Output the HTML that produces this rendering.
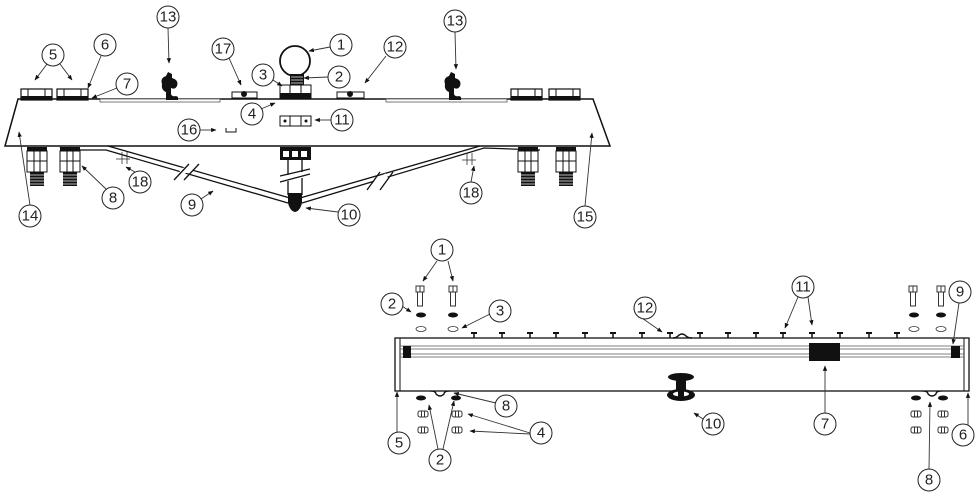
<!DOCTYPE html>
<html><head><meta charset="utf-8"><style>
html,body{margin:0;padding:0;background:#fff;width:980px;height:500px;overflow:hidden}
svg{display:block}
text{font-family:"Liberation Sans",sans-serif;font-size:15px;fill:#222;text-anchor:middle;dominant-baseline:central}
</style></head><body>
<svg width="980" height="500" viewBox="0 0 980 500" xmlns="http://www.w3.org/2000/svg">
<defs>
<marker id="a" viewBox="0 0 10 10" refX="9" refY="5" markerWidth="6" markerHeight="6" orient="auto-start-reverse"><path d="M0,1 L10,5 L0,9 Z" fill="#111"/></marker>
<g id="blk"><rect x="0" y="0" width="31" height="11" fill="#fff" stroke="#111" stroke-width="1.2"/><rect x="0" y="7" width="31" height="4" fill="#111"/><line x1="7" y1="0" x2="7" y2="7" stroke="#111"/><line x1="24" y1="0" x2="24" y2="7" stroke="#111"/></g>
<g id="horn"><path d="M-4,0 L-4,-8 Q-9,-10 -8,-16 Q-10,-22 -4,-24 L-2,-28 L2,-26 L2,-22 Q9,-20 7,-14 Q5,-10 1,-12 L1,-6 Q2,-3 6,-4 L8,-3 L8,0 Z" fill="#111"/></g>
<g id="conn"><rect x="0" y="0" width="20" height="4" fill="#111"/><rect x="0" y="4" width="20" height="21" fill="#fff" stroke="#111"/><line x1="0" y1="14" x2="20" y2="14" stroke="#111"/><line x1="7" y1="4" x2="7" y2="25" stroke="#111"/><line x1="13" y1="4" x2="13" y2="25" stroke="#111"/><rect x="3" y="25" width="14" height="14" fill="#111"/><g stroke="#fff" stroke-width="0.7"><line x1="3" y1="28" x2="17" y2="28"/><line x1="3" y1="31" x2="17" y2="31"/><line x1="3" y1="34" x2="17" y2="34"/><line x1="3" y1="37" x2="17" y2="37"/></g></g>
<g id="bolt"><rect x="-4" y="0" width="8" height="6" fill="#fff" stroke="#333"/><line x1="0" y1="0" x2="0" y2="6" stroke="#333"/><rect x="-2.5" y="6" width="5" height="14" fill="#fff" stroke="#333"/></g>
<g id="nut"><rect x="-5" y="-3" width="10" height="6" rx="2" fill="#fff" stroke="#333"/><line x1="-1.5" y1="-3" x2="-1.5" y2="3" stroke="#333"/><line x1="1.5" y1="-3" x2="1.5" y2="3" stroke="#333"/></g>
<g id="tick"><line x1="0" y1="0" x2="0" y2="-5" stroke="#111" stroke-width="1.5"/><rect x="-3" y="-6" width="6" height="2" fill="#111"/></g>
</defs>

<g stroke="#111" fill="none" stroke-width="1.5">
<path d="M18,99 L593,99 L610,146 L5,146 Z" fill="#fff"/>
</g>
<rect x="100" y="99" width="120" height="3" fill="#fff" stroke="#555" stroke-width="0.8"/>
<rect x="386" y="99" width="121" height="3" fill="#fff" stroke="#555" stroke-width="0.8"/>
<use href="#blk" x="21" y="89"/><use href="#blk" x="57" y="89"/>
<use href="#blk" x="511" y="89"/><use href="#blk" x="549" y="89"/>
<use href="#horn" x="170" y="100"/><use href="#horn" x="453" y="100"/>
<g fill="#fff" stroke="#111"><rect x="232" y="92" width="25" height="6"/><rect x="337" y="92" width="27" height="6"/></g>
<circle cx="244" cy="94" r="3" fill="#111"/><circle cx="350" cy="94" r="3" fill="#111"/>
<circle cx="295" cy="61" r="15" fill="#fff" stroke="#111" stroke-width="1.8"/>
<rect x="290" y="74" width="14" height="11" fill="#111"/>
<g stroke="#fff" stroke-width="0.7"><line x1="291" y1="77" x2="303" y2="77"/><line x1="291" y1="80" x2="303" y2="80"/><line x1="291" y1="83" x2="303" y2="83"/></g>
<rect x="280" y="85" width="31" height="14" fill="#fff" stroke="#111"/><rect x="280" y="93" width="31" height="6" fill="#111"/>
<line x1="290" y1="85" x2="290" y2="93" stroke="#111"/><line x1="301" y1="85" x2="301" y2="93" stroke="#111"/>
<rect x="280" y="116" width="31" height="10" fill="#fff" stroke="#111"/><line x1="290" y1="116" x2="290" y2="126" stroke="#111"/><line x1="301" y1="116" x2="301" y2="126" stroke="#111"/>
<circle cx="285" cy="121" r="1.5" fill="#111"/><circle cx="306" cy="121" r="1.5" fill="#111"/>
<path d="M226,128 V132 H236 V128" fill="none" stroke="#111"/>
<rect x="280" y="147" width="31" height="13" fill="#111"/>
<g fill="#fff"><rect x="283" y="151" width="6" height="6"/><rect x="292" y="151" width="6" height="6"/><rect x="301" y="151" width="6" height="6"/></g>
<g stroke="#111" stroke-width="1.3" fill="none">
<path d="M60,147 Q62,150 70,150 L106,150 L288,203"/><path d="M108,146 L290,198"/>
<path d="M302,203 L484,148 L540,150"/><path d="M300,198 L480,146"/>
<line x1="288" y1="160" x2="288" y2="195"/><line x1="302" y1="160" x2="302" y2="195"/>
</g>
<path d="M288,193 L302,193 L302,203 Q300,211 295,212 Q290,211 288,203 Z" fill="#111"/>
<g stroke="#fff" stroke-width="6"><line x1="180" y1="172" x2="192" y2="168"/><line x1="375" y1="183" x2="387" y2="176"/><line x1="283" y1="179" x2="307" y2="174"/></g>
<g stroke="#111" stroke-width="1.3"><line x1="174" y1="180" x2="189" y2="164"/><line x1="184" y1="180" x2="199" y2="164"/><line x1="367" y1="190" x2="380" y2="172"/><line x1="380" y1="190" x2="393" y2="172"/><line x1="280" y1="182" x2="310" y2="174"/><line x1="280" y1="176" x2="310" y2="169"/></g>
<use href="#conn" x="27" y="147"/><use href="#conn" x="60" y="147"/><use href="#conn" x="518" y="147"/><use href="#conn" x="556" y="147"/>
<g stroke="#333" stroke-width="0.8"><line x1="122" y1="152" x2="122" y2="164"/><line x1="127" y1="152" x2="127" y2="164"/><line x1="116" y1="159" x2="130" y2="159"/><line x1="467" y1="153" x2="467" y2="165"/><line x1="472" y1="153" x2="472" y2="165"/><line x1="462" y1="160" x2="476" y2="160"/></g>

<g stroke="#333" stroke-width="0.9" fill="none" marker-end="url(#a)">
<line x1="47" y1="64" x2="35" y2="80"/><line x1="60" y1="64" x2="72" y2="80"/>
<line x1="101" y1="56" x2="88" y2="88"/><line x1="117" y1="88" x2="92" y2="98"/>
<line x1="168" y1="28" x2="169" y2="63"/><line x1="455" y1="32" x2="456" y2="69"/>
<line x1="229" y1="58" x2="241" y2="85"/><line x1="330" y1="47" x2="309" y2="51"/>
<line x1="328" y1="77" x2="304" y2="78"/><line x1="273" y1="80" x2="282" y2="86"/>
<line x1="386" y1="56" x2="365" y2="83"/><line x1="261" y1="109" x2="275" y2="103"/>
<line x1="331" y1="120" x2="315" y2="120"/><line x1="200" y1="130" x2="216" y2="130"/>
<line x1="30" y1="205" x2="19" y2="132"/><line x1="106" y1="189" x2="82" y2="166"/>
<line x1="135" y1="172" x2="126" y2="167"/><line x1="471" y1="182" x2="474" y2="166"/>
<line x1="201" y1="199" x2="213" y2="191"/><line x1="338" y1="212" x2="306" y2="208"/>
<line x1="585" y1="206" x2="592" y2="133"/>
</g>
<g fill="#fff" stroke="#222" stroke-width="1">
<circle cx="53" cy="55" r="11"/><circle cx="105" cy="45" r="11"/><circle cx="127" cy="84" r="11"/>
<circle cx="168" cy="17" r="11"/><circle cx="455" cy="21" r="11"/><circle cx="223" cy="49" r="11"/>
<circle cx="263" cy="75" r="11"/><circle cx="341" cy="45" r="11"/><circle cx="339" cy="77" r="11"/>
<circle cx="395" cy="47" r="11"/><circle cx="252" cy="114" r="11"/><circle cx="342" cy="120" r="11"/>
<circle cx="189" cy="130" r="11"/><circle cx="30" cy="216" r="11"/><circle cx="113" cy="198" r="11"/>
<circle cx="140" cy="182" r="11"/><circle cx="471" cy="193" r="11"/><circle cx="192" cy="205" r="11"/>
<circle cx="349" cy="215" r="11"/><circle cx="585" cy="217" r="11"/>
</g>
<text x="53" y="55">5</text><text x="105" y="45">6</text><text x="127" y="84">7</text>
<text x="168" y="17">13</text><text x="455" y="21">13</text><text x="223" y="49">17</text>
<text x="263" y="75">3</text><text x="341" y="45">1</text><text x="339" y="77">2</text>
<text x="395" y="47">12</text><text x="252" y="114">4</text><text x="342" y="120">11</text>
<text x="189" y="130">16</text><text x="30" y="216">14</text><text x="113" y="198">8</text>
<text x="140" y="182">18</text><text x="471" y="193">18</text><text x="192" y="205">9</text>
<text x="349" y="215">10</text><text x="585" y="217">15</text>

<rect x="395" y="338" width="574" height="53" fill="#fff" stroke="#111" stroke-width="1.3"/>
<line x1="400" y1="338" x2="400" y2="391" stroke="#111"/><line x1="964" y1="338" x2="964" y2="391" stroke="#111"/>
<g stroke="#555" stroke-width="0.7"><line x1="400" y1="346" x2="964" y2="346"/><line x1="400" y1="349" x2="964" y2="349"/><line x1="400" y1="354" x2="964" y2="354"/><line x1="400" y1="357" x2="964" y2="357"/></g>
<rect x="403" y="346" width="8" height="12" fill="#111"/>
<rect x="809" y="343" width="31" height="18" fill="#111"/>
<rect x="951" y="346" width="9" height="12" fill="#111"/>
<g>
<use href="#tick" x="474" y="338"/><use href="#tick" x="502" y="338"/><use href="#tick" x="530" y="338"/><use href="#tick" x="556" y="338"/><use href="#tick" x="585" y="338"/><use href="#tick" x="613" y="338"/><use href="#tick" x="642" y="338"/><use href="#tick" x="670" y="338"/><use href="#tick" x="700" y="338"/><use href="#tick" x="728" y="338"/><use href="#tick" x="756" y="338"/><use href="#tick" x="783" y="338"/><use href="#tick" x="812" y="338"/><use href="#tick" x="840" y="338"/><use href="#tick" x="869" y="338"/><use href="#tick" x="897" y="338"/>
</g>
<path d="M673,338 Q676,338 678,336 Q682,332 686,336 Q688,338 692,338" fill="none" stroke="#111" stroke-width="1.5"/>
<use href="#bolt" x="420" y="286"/><use href="#bolt" x="453" y="286"/><use href="#bolt" x="913" y="286"/><use href="#bolt" x="941" y="286"/>
<g fill="#111"><ellipse cx="421" cy="315" rx="5" ry="2.5"/><ellipse cx="453" cy="315" rx="5" ry="2.5"/><ellipse cx="914" cy="315" rx="5" ry="2.5"/><ellipse cx="941" cy="315" rx="5" ry="2.5"/>
<ellipse cx="421" cy="398" rx="5" ry="2.5"/><ellipse cx="456" cy="398" rx="5" ry="2.5"/><ellipse cx="916" cy="398" rx="5" ry="2.5"/><ellipse cx="943" cy="398" rx="5" ry="2.5"/></g>
<g fill="#fff" stroke="#333" stroke-width="0.8"><ellipse cx="421" cy="329" rx="5" ry="2.5"/><ellipse cx="453" cy="329" rx="5" ry="2.5"/><ellipse cx="914" cy="329" rx="5" ry="2.5"/><ellipse cx="941" cy="329" rx="5" ry="2.5"/></g>
<path d="M430,391 Q436,391 436,394 Q440,398 444,394 Q444,391 450,391" fill="none" stroke="#111" stroke-width="1.3"/>
<path d="M922,391 Q928,391 928,394 Q932,398 936,394 Q936,391 942,391" fill="none" stroke="#111" stroke-width="1.3"/>
<use href="#nut" x="423" y="414"/><use href="#nut" x="457" y="414"/><use href="#nut" x="423" y="430"/><use href="#nut" x="457" y="430"/>
<use href="#nut" x="916" y="414"/><use href="#nut" x="943" y="414"/><use href="#nut" x="916" y="430"/><use href="#nut" x="943" y="430"/>
<ellipse cx="681" cy="377" rx="13" ry="4" fill="#111"/>
<rect x="676" y="378" width="10" height="22" fill="#111"/>
<ellipse cx="681" cy="395" rx="14" ry="6" fill="#111"/>
<ellipse cx="681" cy="394" rx="8" ry="2.5" fill="#fff"/>
<rect x="678" y="389" width="6" height="10" fill="#111"/>
<g stroke="#333" stroke-width="0.9" fill="none" marker-end="url(#a)">
<line x1="437" y1="261" x2="423" y2="281"/><line x1="448" y1="261" x2="453" y2="281"/>
<line x1="402" y1="306" x2="411" y2="312"/><line x1="490" y1="314" x2="462" y2="328"/>
<line x1="639" y1="316" x2="662" y2="332"/><line x1="798" y1="297" x2="785" y2="328"/>
<line x1="808" y1="297" x2="812" y2="325"/><line x1="959" y1="303" x2="953" y2="344"/>
<line x1="825" y1="413" x2="825" y2="366"/><line x1="703" y1="419" x2="694" y2="413"/>
<line x1="968" y1="425" x2="968" y2="393"/><line x1="929" y1="469" x2="930" y2="402"/>
<line x1="496" y1="403" x2="454" y2="393"/><line x1="530" y1="433" x2="468" y2="414"/>
<line x1="530" y1="434" x2="470" y2="431"/><line x1="438" y1="449" x2="429" y2="405"/>
<line x1="443" y1="449" x2="454" y2="401"/><line x1="397" y1="432" x2="397" y2="392"/>
</g>
<g fill="#fff" stroke="#222" stroke-width="1">
<circle cx="442" cy="250" r="11"/><circle cx="392" cy="304" r="11"/><circle cx="500" cy="311" r="11"/>
<circle cx="645" cy="308" r="11"/><circle cx="803" cy="287" r="11"/><circle cx="960" cy="292" r="11"/>
<circle cx="825" cy="424" r="11"/><circle cx="713" cy="424" r="11"/><circle cx="963" cy="435" r="11"/>
<circle cx="929" cy="480" r="11"/><circle cx="506" cy="406" r="11"/><circle cx="541" cy="433" r="11"/>
<circle cx="440" cy="460" r="11"/><circle cx="399" cy="443" r="11"/>
</g>
<text x="442" y="250">1</text><text x="392" y="304">2</text><text x="500" y="311">3</text>
<text x="645" y="308">12</text><text x="803" y="287">11</text><text x="960" y="292">9</text>
<text x="825" y="424">7</text><text x="713" y="424">10</text><text x="963" y="435">6</text>
<text x="929" y="480">8</text><text x="506" y="406">8</text><text x="541" y="433">4</text>
<text x="440" y="460">2</text><text x="399" y="443">5</text>
</svg>
</body></html>
